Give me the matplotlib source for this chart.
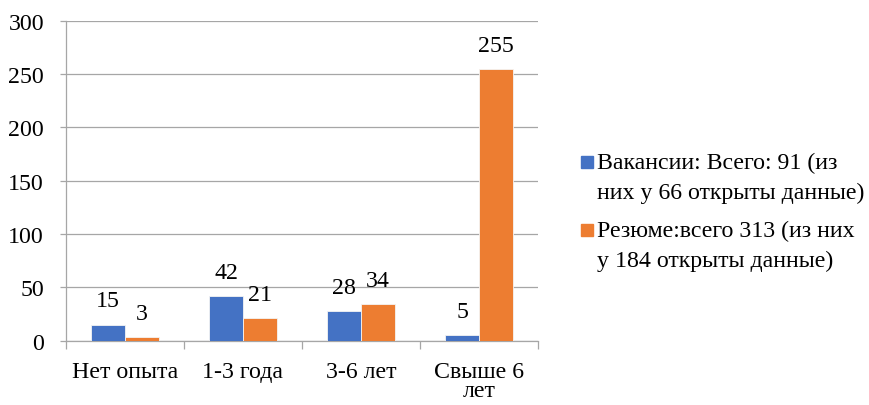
import matplotlib
matplotlib.use("Agg")
import matplotlib.pyplot as plt
from matplotlib.patches import Rectangle
import numpy as np

categories = ["Нет опыта", "1-3 года", "3-6 лет", "Свыше 6\nлет"]
vacancies = [15, 42, 28, 5]
resumes = [3, 21, 34, 255]
series_names = [["Вакансии: Всего: 91 (из", "них у 66 открыты данные)"],
                ["Резюме:всего 313 (из них", "у 184 открыты данные)"]]
colors = ["#4472C4", "#ED7D31"]
yticks = [0, 50, 100, 150, 200, 250, 300]

FONT = "Liberation Serif"
plt.rcParams["font.family"] = "serif"
plt.rcParams["font.serif"] = [FONT, "DejaVu Serif"]
FS = 17.2
GRID = "#a6a6a6"

fig = plt.figure(figsize=(8.7, 4.06), dpi=100)
ax = fig.add_axes([66 / 870, 1 - 341.5 / 406, (538 - 66) / 870, (341.5 - 22) / 406])

x = np.arange(len(categories))
w = 0.284
for i, (vals, c) in enumerate(zip([vacancies, resumes], colors)):
    pos = x + (i - 0.5) * w
    ax.bar(pos, vals, width=w, color=c, edgecolor="#f4f4f4", linewidth=0.6, zorder=3)
    for p, v in zip(pos, vals):
        ax.annotate(str(v), (p, v), xytext=(0, 13), textcoords="offset points",
                    ha="center", va="baseline", fontsize=FS, family=FONT, color="#000000")

ax.set_xlim(-0.5, len(categories) - 0.5)
ax.set_ylim(0, 300)
ax.set_yticks(yticks)
ax.set_yticklabels([str(t) for t in yticks], fontsize=FS, family=FONT)
ax.yaxis.grid(True, color=GRID, linewidth=0.9, zorder=0)
ax.set_axisbelow(True)
ax.tick_params(axis="y", length=4.3, width=0.9, color=GRID, pad=11.5)

ax.set_xticks(x)
ax.set_xticklabels(categories, fontsize=FS, family=FONT, linespacing=0.85)
ax.set_xticks(np.arange(len(categories) + 1) - 0.5, minor=True)
ax.tick_params(axis="x", which="major", length=0, pad=15)
ax.tick_params(axis="x", which="minor", length=5.8, width=0.9, color=GRID)

for s in ["top", "right"]:
    ax.spines[s].set_visible(False)
for s in ["left", "bottom"]:
    ax.spines[s].set_color(GRID)
    ax.spines[s].set_linewidth(0.9)

# legend: square handle next to the first line of each label
legend_rows = [169, 237]
line_step = 30
for lines, c, base in zip(series_names, colors, legend_rows):
    fig.add_artist(Rectangle((581 / 870, 1 - base / 406), 12 / 870, 12 / 406,
                             transform=fig.transFigure, color=c))
    for k, line in enumerate(lines):
        fig.text(597 / 870, 1 - (base + k * line_step) / 406, line, fontsize=FS,
                 family=FONT, ha="left", va="baseline")

fig.savefig("out.png", dpi=100)
